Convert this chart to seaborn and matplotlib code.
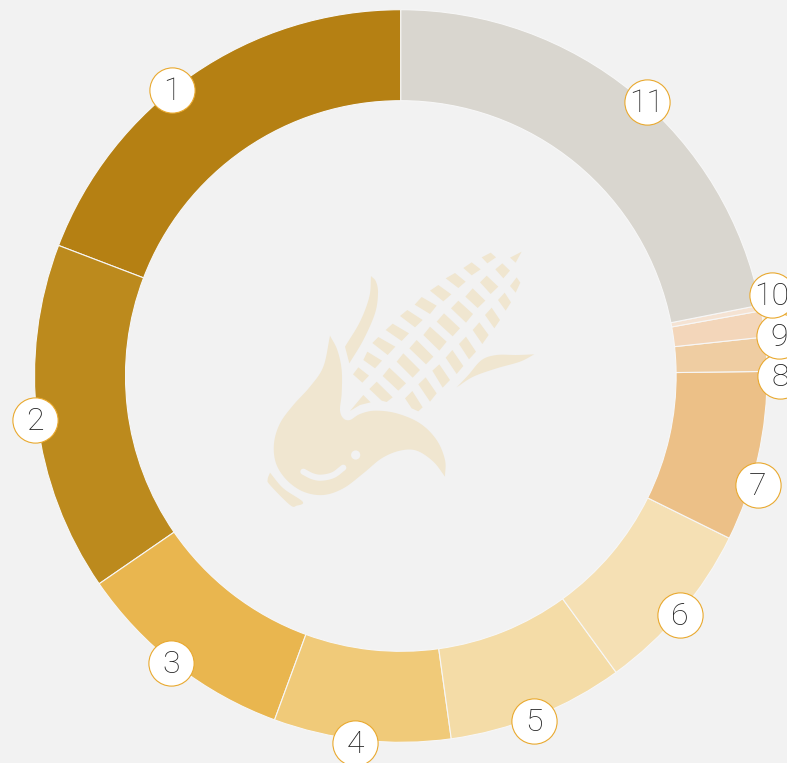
import numpy as np
import pandas as pd
import matplotlib
matplotlib.use("Agg")
import matplotlib.pyplot as plt
from matplotlib.patches import Polygon, Circle
import seaborn as sns

# ---- data -------------------------------------------------------------
labels = ["1", "2", "3", "4", "5", "6", "7", "8", "9", "10", "11"]
shares = [19.2, 15.4, 9.8, 7.8, 7.8, 7.7, 7.5, 1.5, 1.15, 0.25, 21.9]
colors = ["#B58013", "#BC8A1D", "#E9B64F", "#F0CA79", "#F4DCA7", "#F5E0B4",
          "#ECC087", "#EFCDA2", "#F3D6BA", "#F5E3D3", "#D9D6CF"]
badge_x = [172, 35, 171, 355, 534, 680, 758, 780, 779, 772, 647]
badge_y = [90, 420, 663, 743, 721, 615, 485, 376, 336, 295, 102]

BG = "#F2F2F2"
ICON = "#F0E6D0"
W, H = 787, 763

sns.set_theme(style="white", rc={"figure.facecolor": BG, "axes.facecolor": BG})
plt.rcParams["font.family"] = ["Roboto", "DejaVu Sans"]

fig = plt.figure(figsize=(W / 100, H / 100), dpi=100)
ax = fig.add_axes([0, 0, 1, 1])

ax.pie(shares, colors=sns.color_palette(colors), startangle=90, counterclock=True,
       radius=366.3, center=(400.8, H - 376),
       wedgeprops=dict(width=91, edgecolor="#F7F7F7", linewidth=0.8))
ax.set_xlim(0, W)
ax.set_ylim(0, H)
ax.set_aspect("equal")
ax.axis("off")


# ---- corn icon (decoration), outline in pixels ------------------------
def to_xy(pts):
    p = np.asarray(pts, float)
    return np.column_stack([250 + p[:, 0] / 3, H - (240 + p[:, 1] / 3)])


def smooth(pts, n=10):
    p = np.asarray(pts, float)
    p = np.vstack([2 * p[0] - p[1], p, 2 * p[-1] - p[-2]])
    out = []
    for i in range(1, len(p) - 2):
        for t in np.linspace(0, 1, n, endpoint=False):
            a, b, c, d = p[i - 1], p[i], p[i + 1], p[i + 2]
            out.append(0.5 * (2 * b + (c - a) * t + (2 * a - 5 * b + 4 * c - d) * t ** 2
                              + (3 * b - a - 3 * c + d) * t ** 3))
    out.append(p[-2])
    return np.array(out)


kernels = [
    [(695,52),(722,38),(738,52),(712,70)], [(640,84),(665,67),(692,88),(665,106)],
    [(587,115),(615,99),(647,125),(625,144)], [(540,152),(565,135),(604,163),(580,184)],
    [(494,194),(515,171),(560,197),(540,222)], [(450,228),(472,210),(518,240),(495,262)],
    [(407,270),(428,251),(477,280),(455,303)], [(367,309),(385,291),(436,320),(413,345)],
    [(340,360),(352,335),(396,362),(375,385)], [(309,403),(325,382),(357,407),(337,428)],
    [(780,53),(815,35),(797,68)], [(736,88),(757,70),(780,92),(760,115)],
    [(690,127),(710,107),(745,140),(722,162)], [(646,170),(668,145),(706,182),(683,204)],
    [(603,205),(625,182),(669,222),(648,248)], [(560,245),(582,220),(630,265),(608,289)],
    [(520,285),(540,260),(590,305),(568,332)], [(478,325),(500,300),(550,350),(528,373)],
    [(440,365),(460,340),(510,390),(488,413)], [(398,408),(418,383),(468,430),(445,452)],
    [(358,447),(380,425),(428,472),(410,486),(395,482)],
    [(780,138),(800,112),(811,128),(797,158)], [(744,180),(764,158),(783,187),(767,212)],
    [(705,225),(725,203),(750,240),(733,265)], [(668,270),(688,247),(716,285),(697,312)],
    [(627,312),(648,290),(678,335),(657,358)], [(587,353),(607,330),(640,378),(620,402)],
    [(547,392),(568,373),(600,420),(578,443)], [(505,433),(527,412),(560,460),(540,485)],
    [(465,475),(487,453),(518,502),(505,514),(485,505)],
    [(300,513),(340,465),(362,487),(330,495)],
]
for k in kernels:
    ax.add_patch(Polygon(to_xy(k), closed=True, fc=ICON, ec="none"))

husk_a = [(240,287),(262,330),(275,390),(275,460),(270,510),(280,535),(300,540),(330,522),
          (375,512),(440,520),(510,550),(560,600),(585,660),(585,710)]
husk_b = [(585,710),(550,665),(500,632),(450,632),(395,655),(340,700),(280,745),(220,765),
          (160,755),(110,720),(78,670),(72,610),(90,550),(130,495),(180,440),(220,380),(240,287)]
leaf_top_a = [(363,108),(378,125),(384,160),(375,220),(340,300),(298,370)]
leaf_top_b = [(298,370),(285,320)]
leaf_top_c = [(285,320),(330,245),(358,170),(363,108)]
leaf_r_a = [(620,442),(655,405),(695,360),(740,345),(800,345),(853,343)]
leaf_r_b = [(853,343),(810,365),(740,385),(670,410),(620,442)]
stem = [(60,698),(100,745),(158,785),(140,797),(120,795),(60,735),(53,718),(60,698)]
for parts in ([husk_a, husk_b], [leaf_top_a, leaf_top_b, leaf_top_c], [leaf_r_a, leaf_r_b], [stem]):
    ax.add_patch(Polygon(to_xy(np.vstack([smooth(s) for s in parts])), closed=True, fc=ICON, ec="none"))

dot = to_xy([(317, 645)])[0]
ax.add_patch(Circle(dot, 4.6, fc=BG, ec="none"))
smile = to_xy(smooth([(160, 695), (188, 709), (215, 713), (250, 705), (280, 683)]))
ax.plot(smile[:, 0], smile[:, 1], color=BG, lw=4.4, solid_capstyle="round")

# ---- numbered badges ---------------------------------------------------
badges = pd.DataFrame({"x": badge_x, "y": [H - v for v in badge_y], "label": labels})
sns.scatterplot(data=badges, x="x", y="y", s=1060, color="white", edgecolor="#E9A92F",
                linewidth=0.8, legend=False, ax=ax, zorder=5, clip_on=False)
for _, row in badges.iterrows():
    ax.text(row["x"], row["y"] - 1.5, row["label"], ha="center", va="center",
            fontsize=23, fontweight="light", color="#222222", zorder=6)
ax.set_xlabel("")
ax.set_ylabel("")

fig.savefig("out.png", dpi=100, facecolor=BG)
